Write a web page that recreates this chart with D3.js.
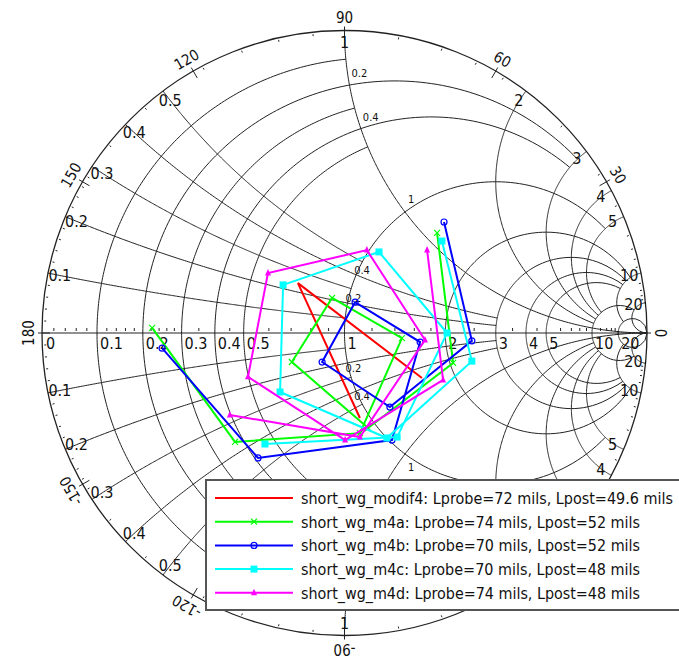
<!DOCTYPE html>
<html>
<head>
<meta charset="utf-8">
<script src="https://cdn.jsdelivr.net/npm/d3@7"></script>
<style>
  body { margin: 0; background: #fff; }
  svg text { font-family: "Liberation Sans Narrow", "DejaVu Sans Condensed", "Liberation Sans", sans-serif; fill: #111; }
</style>
</head>
<body>
<svg id="chart" width="679" height="658"></svg>
<script>
// reflection coefficient (re, im) of each sweep
const modif4 = [[0.256, -0.149], [-0.154, 0.165], [0.051, -0.281]];
const m4a = [[0.306, 0.331], [0.359, -0.099], [0.078, -0.314], [-0.174, -0.096], [-0.041, 0.116],
             [0.190, -0.017], [0.051, -0.331], [-0.362, -0.360], [-0.636, 0.017]];
const m4b = [[0.329, 0.367], [0.421, -0.026], [0.150, -0.245], [-0.074, -0.096], [0.035, 0.102],
             [0.250, -0.030], [0.157, -0.354], [-0.286, -0.413], [-0.603, -0.050]];
const m4c = [[0.322, 0.304], [0.421, -0.093], [0.140, -0.347], [-0.213, -0.195], [-0.203, 0.159],
             [0.114, 0.268], [0.339, 0.000], [0.174, -0.344], [-0.263, -0.367]];
const m4d = [[0.273, 0.274], [0.326, -0.155], [0.002, -0.354], [-0.319, -0.145], [-0.253, 0.198],
             [0.074, 0.274], [0.266, -0.023], [0.051, -0.344], [-0.379, -0.271]];

const seriesData = [modif4, m4a, m4b, m4c, m4d];
const seriesLabels = [
  'short_wg_modif4: Lprobe=72 mils, Lpost=49.6 mils',
  'short_wg_m4a: Lprobe=74 mils, Lpost=52 mils',
  'short_wg_m4b: Lprobe=70 mils, Lpost=52 mils',
  'short_wg_m4c: Lprobe=70 mils, Lpost=48 mils',
  'short_wg_m4d: Lprobe=74 mils, Lpost=48 mils'
];
const seriesColors = ['#ff0000', '#00ff00', '#0000ff', '#00ffff', '#ff00ff'];
const seriesMarkers = ['none', 'cross', 'circle', 'square', 'triangle'];
const legendWidths = [372, 339, 339, 339, 339];

// smith grid: circle values and where each one is cut off
const gridValues = [0.1, 0.2, 0.3, 0.4, 0.5, 1, 2, 3, 4, 5, 10, 20];
const gridLabels = ['0.1', '0.2', '0.3', '0.4', '0.5', '1', '2', '3', '4', '5', '10', '20'];
const resistanceClip = [1, 3, 1, 3, 1, 5, 10, 10, 10, 10, 20, Infinity];
const reactanceClip = [1, 3, 1, 3, 1, Infinity, 10, 10, 10, 10, 20, Infinity];
const minorTicks = [0.02, 0.04, 0.06, 0.08, 0.12, 0.14, 0.16, 0.18, 0.22, 0.24, 0.26, 0.28, 0.35, 0.45,
                    0.6, 0.7, 0.8, 0.9, 1.2, 1.4, 1.6, 1.8, 2.5, 3.5, 4.5, 6, 7, 8, 9, 12, 14, 16, 18];
const angleTicks = [0, 30, 60, 90, 120, 150, 180, -150, -120, -90, -60, -30];

const cx = 344.5, cy = 333, R = 302.5;
const legendBox = { x: 206, y: 480, w: 490, h: 130 };
const svg = d3.select('#chart');
const x = d3.scaleLinear().domain([-1, 1]).range([cx - R, cx + R]);
const y = d3.scaleLinear().domain([-1, 1]).range([cy + R, cy - R]);
const line = d3.line().x(d => x(d[0])).y(d => y(d[1]));

// z = r + jx  ->  gamma = (z - 1) / (z + 1)
function gamma(r, xv) {
  const a = r - 1, c = r + 1, den = c * c + xv * xv;
  return [(a * c + xv * xv) / den, (xv * c - a * xv) / den];
}

// labels that sit under the legend box are not visible in the original
function underLegend(px, py) {
  return px > legendBox.x - 6 && py > legendBox.y - 6 && py < legendBox.y + legendBox.h + 6;
}

const grid = svg.append('g').attr('fill', 'none').attr('stroke', '#222').attr('stroke-width', 1);
grid.append('circle').attr('cx', cx).attr('cy', cy).attr('r', R).attr('stroke-width', 1.3);
grid.append('line').attr('x1', x(-1)).attr('x2', x(1)).attr('y1', y(0)).attr('y2', y(0));

gridValues.forEach((v, i) => {
  const u = Math.atan(resistanceClip[i]);
  const pts = d3.range(241).map(k => gamma(v, Math.tan(-u + 2 * u * k / 240)));
  grid.append('path').attr('d', line(pts));
  const w = Math.atan(reactanceClip[i]);
  [1, -1].forEach(s => {
    const arc = d3.range(241).map(k => gamma(Math.tan(w * k / 240), s * v));
    grid.append('path').attr('d', line(arc));
  });
});

// minor ticks on the real axis and round the rim
minorTicks.forEach(t => {
  const g0 = gamma(t, 0)[0];
  grid.append('line').attr('x1', x(g0)).attr('x2', x(g0)).attr('y1', y(0) - 5).attr('y2', y(0) - 2);
  [1, -1].forEach(s => {
    const p = gamma(0, s * t), a = Math.atan2(p[1], p[0]);
    grid.append('line')
      .attr('x1', cx + (R - 4) * Math.cos(a)).attr('y1', cy - (R - 4) * Math.sin(a))
      .attr('x2', cx + (R - 2) * Math.cos(a)).attr('y2', cy - (R - 2) * Math.sin(a));
  });
});

// angle ticks and labels
angleTicks.forEach(d => {
  const a = d * Math.PI / 180;
  grid.append('line')
    .attr('x1', cx + (R - 8) * Math.cos(a)).attr('y1', cy - (R - 8) * Math.sin(a))
    .attr('x2', cx + (R + 4) * Math.cos(a)).attr('y2', cy - (R + 4) * Math.sin(a));
  const lx = cx + (R + 13) * Math.cos(a), ly = cy - (R + 13) * Math.sin(a);
  if (underLegend(lx, ly)) return;
  svg.append('text').attr('x', lx).attr('y', ly)
    .attr('transform', `rotate(${90 - d},${lx},${ly})`)
    .attr('text-anchor', 'middle').attr('dominant-baseline', 'central')
    .attr('font-size', 15).text(d);
});

const labels = svg.append('g').attr('font-size', 16);
// resistance labels on the axis
labels.append('text').attr('x', x(-1) + 4).attr('y', cy + 16).text('0');
gridValues.forEach((v, i) => {
  labels.append('text').attr('x', x(gamma(v, 0)[0]) + 3).attr('y', cy + 16).text(gridLabels[i]);
  // reactance labels just inside the rim
  [1, -1].forEach(s => {
    const p = gamma(0, s * v);
    const lx = x(p[0] * 0.96), ly = y(p[1] * 0.96);
    if (underLegend(lx, ly)) return;
    labels.append('text').attr('x', lx).attr('y', ly)
      .attr('text-anchor', 'middle').attr('dominant-baseline', 'central')
      .text(gridLabels[i]);
  });
});

// small labels on the r = 1 circle and the x = 1 arcs
const small = svg.append('g').attr('font-size', 11);
function smallLabel(px, py, t) {
  if (!underLegend(px, py)) small.append('text').attr('x', px).attr('y', py).text(t);
}
[1, -1].forEach(s => {
  [0.2, 0.4].forEach(v => {
    const p = gamma(1, s * v);
    smallLabel(x(p[0]) - 2, y(p[1]) + (s > 0 ? -1 : 9), v);
    const q = gamma(v, s);
    smallLabel(x(q[0]) + 2, y(q[1]) + (s > 0 ? -8 : 16), v);
  });
  const c = gamma(1, s);
  smallLabel(x(c[0]) + 3, y(c[1]) + (s > 0 ? -9 : 17), '1');
});

function drawMarker(g, px, py, type, color) {
  if (type === 'cross') {
    g.append('path').attr('d', `M${px - 3},${py - 3}L${px + 3},${py + 3}M${px - 3},${py + 3}L${px + 3},${py - 3}`)
      .attr('stroke', color).attr('stroke-width', 1.2).attr('fill', 'none');
  } else if (type === 'circle') {
    g.append('circle').attr('cx', px).attr('cy', py).attr('r', 3)
      .attr('stroke', color).attr('stroke-width', 1.2).attr('fill', 'none');
  } else if (type === 'square') {
    g.append('rect').attr('x', px - 3.5).attr('y', py - 3.5).attr('width', 7).attr('height', 7).attr('fill', color);
  } else if (type === 'triangle') {
    g.append('path').attr('d', `M${px},${py - 4}L${px + 3},${py + 2.5}L${px - 3},${py + 2.5}Z`).attr('fill', color);
  }
}

seriesData.forEach((pts, i) => {
  const g = svg.append('g');
  g.append('path').attr('d', line(pts)).attr('fill', 'none')
    .attr('stroke', seriesColors[i]).attr('stroke-width', 2);
  pts.forEach(p => drawMarker(g, x(p[0]), y(p[1]), seriesMarkers[i], seriesColors[i]));
});

// legend
const legend = svg.append('g');
legend.append('rect').attr('x', legendBox.x).attr('y', legendBox.y)
  .attr('width', legendBox.w).attr('height', legendBox.h)
  .attr('fill', '#fff').attr('stroke', '#555').attr('stroke-width', 2);
seriesLabels.forEach((t, i) => {
  const ly = 498 + i * 23.7;
  legend.append('line').attr('x1', 215).attr('x2', 293).attr('y1', ly).attr('y2', ly)
    .attr('stroke', seriesColors[i]).attr('stroke-width', 2);
  drawMarker(legend, 254, ly, seriesMarkers[i], seriesColors[i]);
  legend.append('text').attr('x', 301).attr('y', ly + 6).attr('font-size', 16)
    .attr('textLength', legendWidths[i]).attr('lengthAdjust', 'spacingAndGlyphs').text(t);
});
</script>
</body>
</html>
